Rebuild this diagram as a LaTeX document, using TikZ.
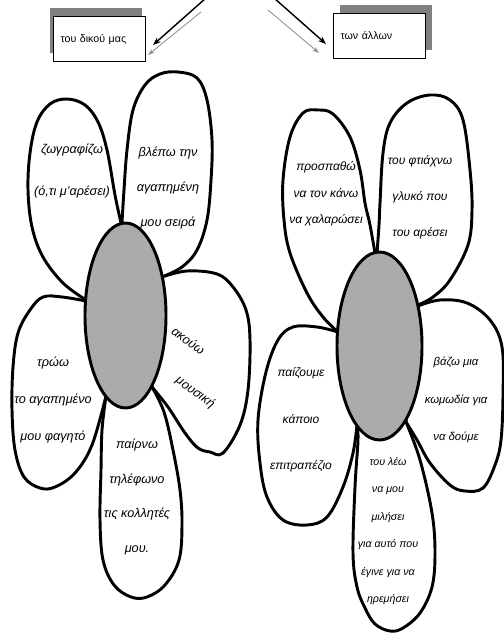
\documentclass[tikz,border=0pt]{standalone}
\usepackage{fontspec}
\setmainfont{Liberation Sans}
\usetikzlibrary{arrows.meta,shapes.geometric,shadows}
\begin{document}
\begin{tikzpicture}[x=0.75pt,y=-0.75pt,
  petal/.style={draw=black,fill=white,line width=2.2pt,line join=round},
  disc/.style={ellipse,draw=black,line width=2.2pt,fill=black!33,inner sep=0pt},
  hdr/.style={draw=black,line width=0.8pt,fill=white,minimum height=33.75pt,
    text width=58.5pt,inner xsep=5.25pt,align=left,font=\fontsize{8}{10}\selectfont},
  blkarrow/.style={line width=1.1pt,-{Stealth[length=6pt,width=4.5pt]}},
  greyarrow/.style={line width=0.6pt,draw=black!45,-{Stealth[open,length=5pt,width=3.5pt]}},
  hand/.style 2 args={align=center,inner sep=0pt,font=\itshape\fontsize{#1}{#2}\selectfont}]
\useasboundingbox (0,0) rectangle (503,634);
\fill[white] (0,0) rectangle (503,634);

% header boxes with shadows
\node[hdr,anchor=north west,drop shadow={shadow xshift=-3pt,shadow yshift=6.75pt,fill=black!50,opacity=1}] (bL) at (53,16) {του δικού μας};
\node[hdr,anchor=north west,drop shadow={shadow xshift=4.5pt,shadow yshift=6.75pt,fill=black!50,opacity=1}] (bR) at (333,13) {των άλλων};

% arrows
\coordinate (aLs) at (206,-2);
\coordinate (aLe) at (153,45);
\coordinate (gLs) at (201,12);
\coordinate (gLe) at (148,55);
\coordinate (aRs) at (274,-2);
\coordinate (aRe) at (326,44);
\coordinate (gRs) at (268,10);
\coordinate (gRe) at (319,53);
\draw[greyarrow] (gLs) -- (gLe);
\draw[blkarrow] (aLs) -- (aLe);
\draw[greyarrow] (gRs) -- (gRe);
\draw[blkarrow] (aRs) -- (aRe);

% ---------- left flower petals ----------
\draw[petal] plot[smooth,tension=.6] coordinates {(121,223) (115,195) (107,150) (98,122) (85,105) (67,99) (50,104) (37,122) (30,153) (28,190) (32,227) (43,257) (63,283) (86,300)} -- cycle;
\draw[petal] plot[smooth,tension=.6] coordinates {(122,222) (124,190) (127,150) (133,110) (145,85) (160,74) (178,72) (197,78) (207,100) (212,140) (211,180) (207,220) (197,250) (182,267) (162,277)} -- cycle;
\draw[petal] plot[smooth,tension=.6] coordinates {(162,277) (187,271) (217,274) (233,287) (246,310) (250,340) (248,390) (240,425) (223,453) (210,452) (198,448) (185,433) (168,407) (152,387)} -- cycle;
\draw[petal] plot[smooth,tension=.6] coordinates {(152,387) (164,412) (173,450) (180,490) (182,525) (179,560) (165,585) (147,597) (131,597) (114,585) (103,560) (100,520) (101,470) (102,430) (106,396)} -- cycle;
\draw[petal] plot[smooth,tension=.6] coordinates {(86,301) (62,297) (43,297) (30,310) (18,333) (13,367) (12,410) (15,450) (24,477) (40,488) (55,487) (75,473) (92,445) (106,396)} -- cycle;
\node[disc,minimum width=60.75pt,minimum height=138.75pt] (cL) at (125.5,315.5) {};

% ---------- right flower petals ----------
\draw[petal] plot[smooth,tension=.6] coordinates {(375,253) (370,225) (365,203) (360,170) (350,137) (333,114) (318,110) (303,113) (290,137) (283,180) (284,220) (290,253) (307,293) (323,317) (338,332)} -- cycle;
\draw[petal] plot[smooth,tension=.6] coordinates {(377,253) (379,225) (380,203) (383,153) (390,123) (407,103) (430,95) (450,100) (463,120) (470,170) (472,210) (468,245) (450,280) (433,297) (418,305)} -- cycle;
\draw[petal] plot[smooth,tension=.6] coordinates {(418,306) (440,300) (467,303) (490,320) (502,347) (503,395) (501,440) (495,465) (483,488) (465,491) (450,485) (430,463) (417,440) (406,422)} -- cycle;
\draw[petal] plot[smooth,tension=.6] coordinates {(406,422) (420,460) (432,513) (435,553) (432,587) (420,613) (403,628) (390,631) (375,624) (365,608) (357,587) (353,553) (355,487) (358,440) (357,425)} -- cycle;
\draw[petal] plot[smooth,tension=.6] coordinates {(338,332) (317,327) (293,327) (278,340) (266,372) (258,420) (260,463) (267,497) (283,520) (307,525) (327,517) (343,487) (353,453) (357,425)} -- cycle;
\node[disc,minimum width=63.75pt,minimum height=141pt] (cR) at (379.5,346) {};

% ---------- left flower texts ----------
\node[hand={9.5}{31.5}] (tL1) at (72,171) {ζωγραφίζω\\(ό,τι μ'αρέσει)};
\node[hand={9.5}{26}] (tL2) at (168,188) {βλέπω την\\αγαπημένη\\μου σειρά};
\node[hand={9.5}{27.3},align=left,anchor=base west,rotate=-36] (tL3) at (149,363) {ακούω\\\hspace*{24pt}μουσική};
\node[hand={9.5}{26}] (tL4) at (137,497) {παίρνω\\τηλέφωνο\\τις κολλητές\\μου.};
\node[hand={9.5}{28}] (tL5) at (53,400) {τρώω\\το αγαπημένο\\μου φαγητό};

% ---------- right flower texts ----------
\node[hand={9}{20}] (tR1) at (326,194) {προσπαθώ\\να τον κάνω\\να χαλαρώσει};
\node[hand={9}{27}] (tR2) at (420,197) {του φτιάχνω\\γλυκό που\\του αρέσει};
\node[hand={8.5}{28}] (tR3) at (456,400) {βάζω μια\\κωμωδία για\\να δούμε};
\node[hand={9}{35}] (tR4) at (301,420) {παίζουμε\\κάποιο\\επιτραπέζιο};
\node[hand={8}{20.6}] (tR5) at (388,531) {του λέω\\να μου\\μιλήσει\\για αυτό που\\έγινε για να\\ηρεμήσει};
\end{tikzpicture}
\end{document}
